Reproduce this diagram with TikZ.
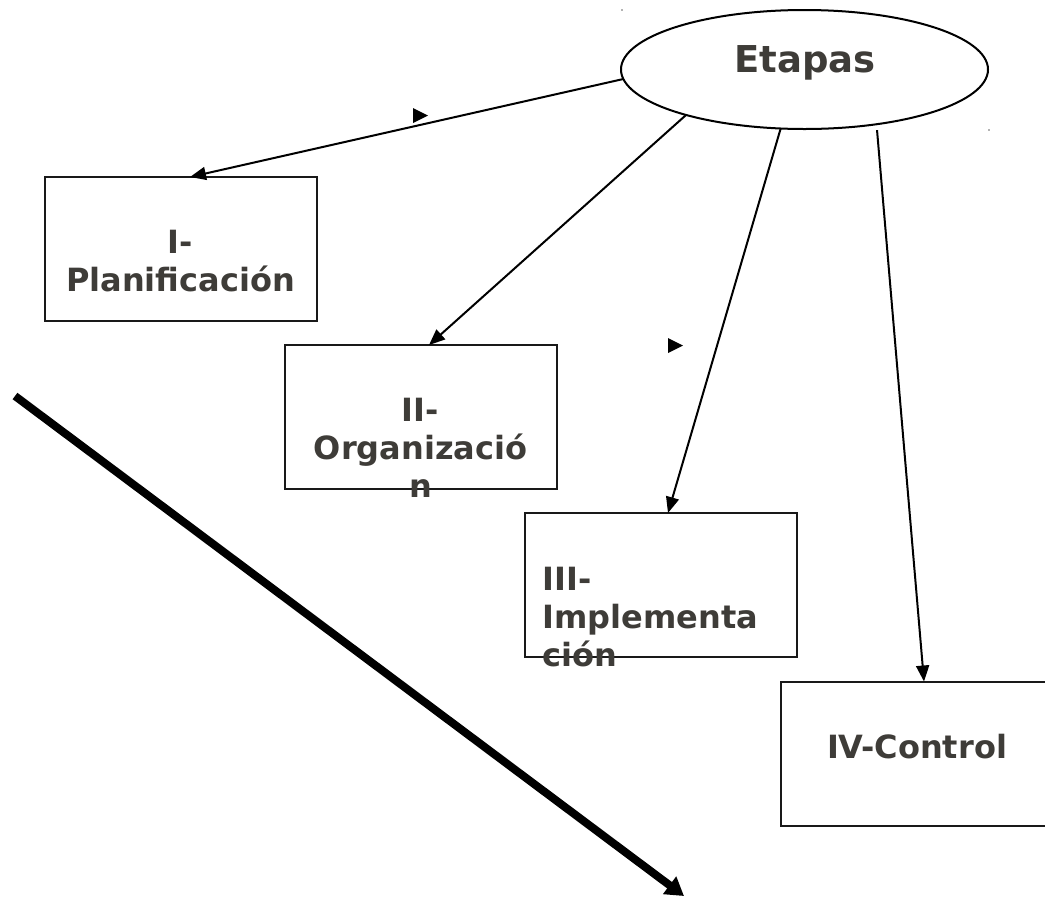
\documentclass[tikz,border=0pt]{standalone}
\usepackage{fontspec}
\setmainfont{DejaVu Sans}
\usetikzlibrary{shapes.geometric,arrows.meta}
\definecolor{txt}{RGB}{62,60,56}
\begin{document}
\begin{tikzpicture}[x=1pt,y=-1pt,
  stagebox/.style={draw=black!90,line width=2pt,minimum width=272pt,minimum height=144pt,inner sep=0pt,outer sep=0pt},
  stagetext/.style={text=txt,font=\bfseries\fontsize{32}{38}\selectfont,inner sep=0pt,anchor=north,align=center},
  conn/.style={line width=2pt,-{Triangle[length=16pt,width=13pt]}},
  tri/.style={fill=black}
]
\fill[white] (0,0) rectangle (1045,898);
\useasboundingbox (0,0) rectangle (1045,898);
% central ellipse
\node[ellipse,draw,line width=2pt,minimum width=367pt,minimum height=119pt,inner sep=0pt,outer sep=0pt] (e) at (804.5,69.5) {};
\node[text=txt,font=\bfseries\fontsize{37}{44}\selectfont,inner sep=0pt,anchor=north] (et) at (805,45) {Etapas};
% stage boxes
\node[stagebox] (b1) at (180.5,249) {};
\node[stagebox] (b2) at (420.5,417) {};
\node[stagebox] (b3) at (660.5,585) {};
\node[stagebox] (b4) at (917,753.5) {};
% texts
\node[stagetext] (t1) at ([yshift=-53pt]b1.north) {I-\\Planificación};
\node[stagetext] (t2) at ([yshift=-53pt]b2.north) {II-\\Organizació\\n};
\node[stagetext,anchor=north west,align=left] (t3) at ([xshift=18pt,yshift=-54pt]b3.north west) {III-\\Implementa\\ción};
\node[stagetext] (t4) at ([yshift=-52pt]b4.north) {IV-Control};
% connectors
\draw[conn] (e.183.6) -- ([xshift=9.5pt]b1.north);
\draw[conn] (e.201.2) -- ([xshift=8.5pt]b2.north);
\draw[conn] (e.248) -- ([xshift=7.5pt]b3.north);
\draw[conn] ([yshift=-6pt]e.323) -- ([xshift=7pt]b4.north);
% small markers
\fill[tri] (413,108) -- (428,115.5) -- (413,123) -- cycle;
\fill[tri] (668,338) -- (683,345.5) -- (668,353) -- cycle;
% specks
\fill[black!60] (622,10) circle[radius=0.8pt];
\fill[black!60] (989,130) circle[radius=0.8pt];
% thick arrow
\coordinate (ts) at (15,396);
\coordinate (te) at (684,896);
\draw[line width=8pt,-{Triangle[length=18pt,width=21pt]}] (ts) -- (te);
\end{tikzpicture}
\end{document}
